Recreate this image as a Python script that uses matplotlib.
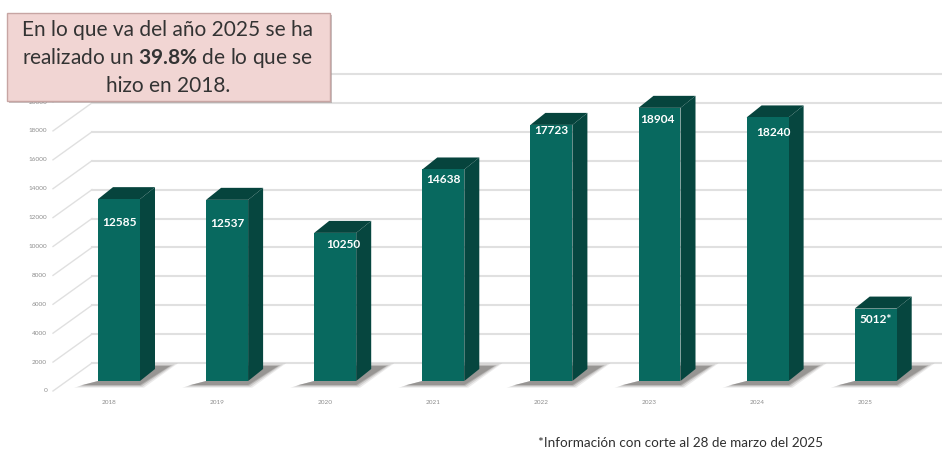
from __future__ import annotations

import matplotlib

matplotlib.use("Agg")
import matplotlib.pyplot as plt
from matplotlib.patches import FancyBboxPatch, Polygon, Rectangle


YEARS = ["2018", "2019", "2020", "2021", "2022", "2023", "2024", "2025"]
VALUES = [12585, 12537, 10250, 14638, 17723, 18904, 18240, 5012]
VALUE_LABELS = ["12585", "12537", "10250", "14638", "17723", "18904", "18240", "5012*"]
AXIS_TICKS = [0, 2000, 4000, 6000, 8000, 10000, 12000, 14000, 16000, 18000, 20000]
NOTE = "*Información con corte al 28 de marzo del 2025"

# layout, in reference pixels
WIDTH, HEIGHT = 942, 451
BAR_STEP = 108.1
FIRST_BAR = 119
BASE_Y = 381
PX_PER_UNIT = 0.01445
LABEL_DROP = [23, 24, 12, 10, 6, 12, 15, 11]
LABEL_SHIFT = [0, 0, 8, 0, 0, -2, 6, 0]

FRONT = "#08695f"
SIDE = "#06463f"
TOP = "#06443d"
GRID = "#e0e0e0"
TICK_TEXT = "#8c8c8c"

plt.rcParams["font.family"] = ["Lato", "DejaVu Sans"]
plt.rcParams["mathtext.fontset"] = "custom"
plt.rcParams["mathtext.bf"] = "Lato:bold"
plt.rcParams["mathtext.rm"] = "Lato"


def px_x(dx: float) -> float:
    return dx / BAR_STEP


def px_y(dy: float) -> float:
    return dy / PX_PER_UNIT


def draw_grid(ax: plt.Axes) -> None:
    wall_x = px_x(92 - FIRST_BAR)
    front_x = px_x(53 - FIRST_BAR)
    right_x = px_x(WIDTH - FIRST_BAR)
    for tick in AXIS_TICKS:
        wall_y = tick + px_y(18)
        front_y = tick - px_y(10)
        ax.plot([front_x, wall_x], [front_y, wall_y], color=GRID, lw=1.0, zorder=1)
        ax.plot([wall_x, right_x], [wall_y, wall_y], color=GRID, lw=1.5, zorder=1)
        ax.text(front_x - px_x(6), front_y, str(tick), ha="right", va="center", fontsize=4.6, color=TICK_TEXT)


def draw_bar(ax: plt.Axes, i: int, value: int) -> None:
    half = px_x(21)
    left, right = i - half, i + half
    dx, dy = px_x(15), px_y(12)

    # soft floor shadow, a few stacked layers
    for grow, alpha in [(8, 0.12), (5, 0.18), (2, 0.28), (0, 0.30)]:
        g = px_x(grow)
        gy = px_y(grow / 3)
        shadow = [
            (left - px_x(16) - g, -px_y(4) - gy),
            (right + g / 2, -px_y(4) - gy),
            (right + px_x(30) + g, px_y(15) + gy),
            (right, px_y(15) + gy),
            (left, 0),
        ]
        ax.add_patch(Polygon(shadow, closed=True, fc="#5e5a58", ec="none", alpha=alpha, zorder=2))

    ax.add_patch(Polygon(
        [(right, 0), (right + dx, dy), (right + dx, value + dy), (right, value)],
        closed=True, fc=SIDE, ec="none", zorder=3,
    ))
    ax.add_patch(Polygon(
        [(left, value), (left + dx, value + dy), (right + dx, value + dy), (right, value)],
        closed=True, fc=TOP, ec="none", zorder=3,
    ))
    ax.add_patch(Rectangle((left, 0), right - left, value, fc=FRONT, ec="none", zorder=4))


def main() -> None:
    fig = plt.figure(figsize=(WIDTH / 100, HEIGHT / 100), dpi=100)
    ax = fig.add_axes([0, 0, 1, 1])
    ax.set_xlim(px_x(-FIRST_BAR), px_x(WIDTH - FIRST_BAR))
    ax.set_ylim(px_y(BASE_Y - HEIGHT), px_y(BASE_Y))
    ax.axis("off")

    draw_grid(ax)

    for i, (year, value, label) in enumerate(zip(YEARS, VALUES, VALUE_LABELS)):
        draw_bar(ax, i, value)
        ax.text(i + px_x(LABEL_SHIFT[i]), value - px_y(LABEL_DROP[i]), label, ha="center", va="center",
                fontsize=8.6, fontweight="bold", color="white", zorder=6)
        ax.text(i - px_x(10), px_y(BASE_Y - 402), year, ha="center", va="center", fontsize=4.6, color=TICK_TEXT)

    ax.text(px_x(681 - FIRST_BAR), px_y(BASE_Y - 443), NOTE, ha="center", va="center", fontsize=9.7, color="#2f2f2f")

    # callout box, placed in figure pixels
    to_fig = fig.transFigure
    box_x, box_y, box_w, box_h = 7 / WIDTH, 1 - 101 / HEIGHT, 323 / WIDTH, 88 / HEIGHT
    fig.add_artist(Rectangle((box_x + 2 / WIDTH, box_y - 2 / HEIGHT), box_w, box_h, transform=to_fig,
                             fc="#9a8f8f", ec="none", alpha=0.55, zorder=8))
    fig.add_artist(FancyBboxPatch((box_x, box_y), box_w, box_h, boxstyle="square,pad=0", transform=to_fig,
                                  fc="#f1d5d3", ec="#c7a5a3", lw=1.0, zorder=9))
    lines = ["En lo que va del año 2025 se ha", r"realizado un $\mathbf{39.8\%}$ de lo que se", "hizo en 2018."]
    for line, y in zip(lines, [30, 58, 86]):
        fig.text(168 / WIDTH, 1 - y / HEIGHT, line, ha="center", va="center", fontsize=15, color="#333333", zorder=10)

    fig.savefig("out.png", dpi=100)
    plt.close(fig)


if __name__ == "__main__":
    main()
